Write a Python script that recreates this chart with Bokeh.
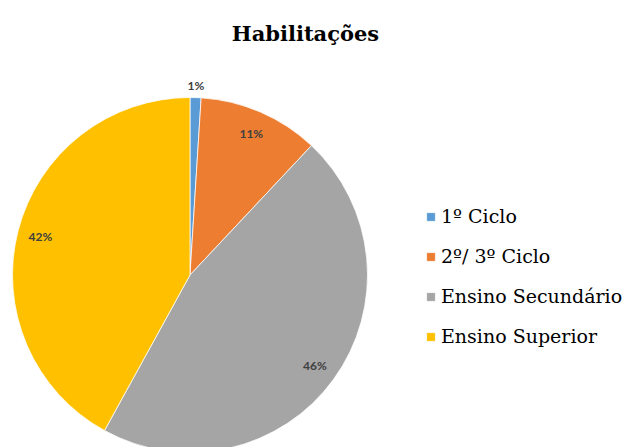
import numpy as np
from bokeh.plotting import figure
from bokeh.models import ColumnDataSource, Legend, LegendItem
from bokeh.core.properties import value
from bokeh.embed import file_html
from bokeh.resources import INLINE

# ---- data ----
categories = ["1º Ciclo", "2º/ 3º Ciclo", "Ensino Secundário", "Ensino Superior"]
percents = [1, 11, 46, 42]
colors = ["#5B9BD5", "#ED7D31", "#A5A5A5", "#FFC000"]
title_text = "Habilitações"

# ---- layout constants (pixels) ----
W, H = 626, 447
cx, cy, R = 189.5, H - 274.5, 177.5

vals = np.array(percents, dtype=float)
frac = vals / vals.sum()
cum_end = np.cumsum(frac)
cum_start = cum_end - frac
start = np.pi / 2 - cum_end * 2 * np.pi
end = np.pi / 2 - cum_start * 2 * np.pi
mid = (start + end) / 2
rfac = np.where(frac < 0.05, 1.07, 0.87)
lx = cx + R * rfac * np.cos(mid)
ly = cy + R * rfac * np.sin(mid)

src = ColumnDataSource(dict(cat=categories, start=start, end=end, color=colors,
                            lx=lx, ly=ly, lbl=[f"{v:g}%" for v in percents]))

p = figure(width=W, height=H, output_backend="svg", toolbar_location=None,
           x_range=(0, W), y_range=(0, H), min_border=0,
           x_axis_location=None, y_axis_location=None, outline_line_color=None)
p.grid.visible = False

r = p.wedge(x=cx, y=cy, radius=R, start_angle="start", end_angle="end",
            fill_color="color", line_color="white", line_width=0.75, source=src)

p.text(x="lx", y="ly", text="lbl", source=src, text_align="center",
       text_baseline="middle", text_font=value("Lato"), text_font_size="12px",
       text_color="#404040", text_font_style="bold")

p.text(x=[305], y=[H - 33], text=[title_text], text_align="center",
       text_baseline="alphabetic", text_font=value("DejaVu Serif"),
       text_font_size="21px", text_font_style="bold", text_color="black")

items = [LegendItem(label=c, renderers=[r], index=i) for i, c in enumerate(categories)]
legend = Legend(items=items, location=(425, 100), glyph_width=11, glyph_height=11,
                label_standoff=5, spacing=18, label_height=20, padding=0, margin=0,
                border_line_color=None, background_fill_alpha=0,
                label_text_font="DejaVu Serif", label_text_font_size="19px",
                label_text_color="black")
p.add_layout(legend)

open("out.html", "w").write(file_html(p, INLINE))
